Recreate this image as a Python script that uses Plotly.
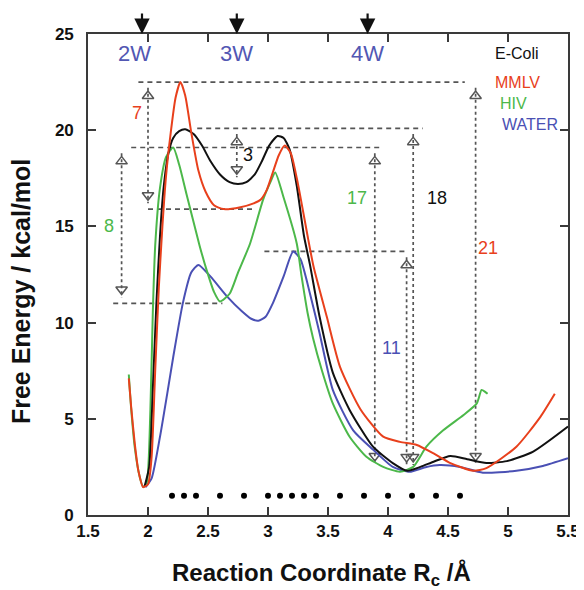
import plotly.graph_objects as go

# ---------------- data ----------------
mmlv_x = [1.84, 1.86, 1.89, 1.92, 1.96, 2.0, 2.03, 2.06, 2.09, 2.12, 2.15, 2.19, 2.23, 2.27, 2.31, 2.36, 2.42,
          2.48, 2.55, 2.63, 2.77, 2.88, 2.94, 2.99, 3.04, 3.09, 3.14, 3.19, 3.24, 3.28, 3.33, 3.38, 3.49, 3.6,
          3.77, 3.96, 4.1, 4.24, 4.38, 4.52, 4.71, 4.82, 5.07, 5.27, 5.39]
mmlv_y = [7.1, 5.6, 3.7, 2.3, 1.45, 1.6, 3.0, 7.5, 11.8, 15.0, 17.6, 19.9, 21.7, 22.5, 21.8, 19.9, 17.9,
          16.8, 16.1, 15.9, 16.0, 16.2, 16.4, 16.9, 17.8, 18.7, 19.2, 18.8, 17.5, 16.2, 14.5, 12.9, 10.3, 7.7,
          5.5, 4.07, 3.8, 3.64, 3.2, 2.7, 2.3, 2.44, 3.55, 5.1, 6.3]

hiv_x = [1.84, 1.86, 1.89, 1.93, 1.96, 1.99, 2.02, 2.04, 2.06, 2.1, 2.15, 2.21, 2.26, 2.32, 2.43, 2.49, 2.55,
         2.6, 2.68, 2.75, 2.85, 2.96, 3.02, 3.06, 3.13, 3.24, 3.28, 3.33, 3.375, 3.45, 3.54, 3.68, 3.82, 3.96,
         4.1, 4.21, 4.32, 4.46, 4.63, 4.74, 4.78, 4.81, 4.83]
hiv_y = [7.3, 5.5, 3.5, 2.0, 1.45, 1.7, 5.5, 10.5, 14.0, 17.0, 18.6, 19.1, 18.2, 16.7, 14.0, 12.7, 11.6,
         11.1, 11.5, 12.6, 14.1, 16.4, 17.3, 17.8, 16.5, 14.1, 12.4, 10.5, 9.2, 7.5, 5.8, 4.07, 3.03, 2.5,
         2.25, 2.5, 3.55, 4.4, 5.2, 5.8, 6.5, 6.4, 6.3]

ecoli_x = [1.97, 2.01, 2.04, 2.07, 2.1, 2.13, 2.17, 2.21, 2.26, 2.31, 2.38, 2.45, 2.52, 2.6, 2.68, 2.75, 2.82,
           2.89, 2.95, 3.01, 3.08, 3.13, 3.18, 3.24, 3.3, 3.35, 3.43, 3.54, 3.68, 3.875, 4.04, 4.16, 4.27,
           4.38, 4.52, 4.66, 4.82, 4.99, 5.21, 5.5]
ecoli_y = [1.45, 2.5, 6.5, 11.0, 14.5, 17.0, 18.8, 19.6, 19.95, 20.05, 19.8, 19.2, 18.4, 17.7, 17.3, 17.2,
           17.3, 17.7, 18.4, 19.2, 19.7, 19.6, 19.0, 17.1, 14.5, 13.0, 10.3, 7.4, 5.46, 3.55, 2.7, 2.3, 2.5,
           2.77, 3.07, 2.9, 2.7, 2.8, 3.3, 4.6]

water_x = [1.98, 2.03, 2.1, 2.16, 2.21, 2.29, 2.36, 2.42, 2.52, 2.66, 2.78, 2.86, 2.92, 2.98, 3.04, 3.13, 3.21,
           3.27, 3.35, 3.43, 3.54, 3.71, 3.875, 4.04, 4.18, 4.32, 4.43, 4.6, 4.79, 5.07, 5.29, 5.5]
water_y = [1.45, 1.9, 4.07, 6.3, 8.2, 11.0, 12.6, 13.0, 12.4, 11.35, 10.6, 10.2, 10.1, 10.3, 11.0, 12.4, 13.7,
           13.3, 11.5, 9.45, 6.5, 4.4, 3.4, 2.5, 2.25, 2.5, 2.6, 2.5, 2.2, 2.3, 2.55, 2.95]

series_names = ["E-Coli", "MMLV", "HIV", "WATER"]

# reference dots along the bottom
dot_x = [2.2, 2.3, 2.4, 2.6, 2.8, 3.0, 3.1, 3.2, 3.3, 3.4, 3.6, 3.8, 4.0, 4.2, 4.4, 4.6]
dot_level = 1.0

# water-count markers on top
water_labels = ["2W", "3W", "4W"]
water_arrow_x = [1.95, 2.74, 3.83]
water_label_x = [1.89, 2.74, 3.83]
water_label_level = 24.0

# barrier annotations: label, vertical x, top energy, bottom energy, label x, label y
barrier_labels = ["7", "21", "3", "18", "8", "17", "11"]
barrier_series = ["MMLV", "MMLV", "E-Coli", "E-Coli", "HIV", "HIV", "WATER"]
barrier_x = [2.0, 4.73, 2.74, 4.21, 1.78, 3.89, 4.155]
barrier_top = [22.5, 22.5, 20.1, 20.1, 19.1, 19.1, 13.7]
barrier_bottom = [15.9, 2.35, 17.25, 2.3, 11.0, 2.35, 2.3]
barrier_label_x = [1.91, 4.83, 2.83, 4.41, 1.675, 3.74, 4.03]
barrier_label_y = [20.9, 13.9, 18.7, 16.5, 15.0, 16.5, 8.7]

# horizontal dashed reference levels: energy, x start, x end
hline_y = [22.5, 15.9, 20.1, 19.1, 11.0, 13.7]
hline_x0 = [1.92, 2.0, 2.41, 1.86, 1.71, 2.97]
hline_x1 = [4.64, 2.89, 4.29, 3.95, 2.62, 4.16]

# legend text placement
legend_x = [4.875, 4.875, 4.915, 4.93]
legend_y = [24.0, 22.5, 21.4, 20.3]

x_ticks = [1.5, 2, 2.5, 3, 3.5, 4, 4.5, 5, 5.5]
x_tick_labels = ["1.5", "2", "2.5", "3", "3.5", "4", "4.5", "5", "5.5"]
y_ticks = [0, 5, 10, 15, 20, 25]
y_tick_labels = ["0", "5", "10", "15", "20", "25"]

x_title = "Reaction Coordinate R<sub>c</sub> /Å"
y_title = "Free Energy / kcal/mol"

# ---------------- style ----------------
colors = {"E-Coli": "#111111", "MMLV": "#e8401c", "HIV": "#4cb84a", "WATER": "#4a50b4"}
label_blue = "#5257b3"
dash_col = "#555555"
axis_col = "#3a3a3a"
FONT = "Liberation Sans, Arial, sans-serif"

fig = go.Figure()

# dashed horizontal lines
for y, x0, x1 in zip(hline_y, hline_x0, hline_x1):
    fig.add_trace(go.Scatter(x=[x0, x1], y=[y, y], mode="lines",
                             line=dict(color=dash_col, width=1.7, dash="5px,4px"),
                             hoverinfo="skip", showlegend=False))

# vertical barrier arrows
tri_off = 0.42  # arrowhead marker centre offset from line ends (energy units)
for lab, ser, x, yt, yb in zip(barrier_labels, barrier_series, barrier_x, barrier_top, barrier_bottom):
    fig.add_trace(go.Scatter(x=[x, x], y=[yt - 0.3, yb + 0.3], mode="lines",
                             line=dict(color=dash_col, width=1.7, dash="3px,3px"),
                             hoverinfo="skip", showlegend=False))
    fig.add_trace(go.Scatter(x=[x], y=[yt - 0.3 - tri_off], mode="markers",
                             marker=dict(symbol="triangle-up-open", size=10, color=dash_col,
                                         line=dict(width=1.5, color=dash_col)),
                             hoverinfo="skip", showlegend=False))
    fig.add_trace(go.Scatter(x=[x], y=[yb + 0.3 + tri_off], mode="markers",
                             marker=dict(symbol="triangle-down-open", size=10, color=dash_col,
                                         line=dict(width=1.5, color=dash_col)),
                             hoverinfo="skip", showlegend=False))

# curves
curves = {"E-Coli": (ecoli_x, ecoli_y), "MMLV": (mmlv_x, mmlv_y),
          "HIV": (hiv_x, hiv_y), "WATER": (water_x, water_y)}
for name in ["WATER", "HIV", "E-Coli", "MMLV"]:
    xs, ys = curves[name]
    fig.add_trace(go.Scatter(x=xs, y=ys, mode="lines", name=name,
                             line=dict(color=colors[name], width=2, shape="spline", smoothing=0.6),
                             showlegend=False))

# bottom dots
fig.add_trace(go.Scatter(x=dot_x, y=[dot_level] * len(dot_x), mode="markers",
                         marker=dict(color="black", size=6), hoverinfo="skip", showlegend=False))

annotations = []
# barrier labels
for lab, ser, lx, ly in zip(barrier_labels, barrier_series, barrier_label_x, barrier_label_y):
    annotations.append(dict(x=lx, y=ly, text=lab, showarrow=False, xref="x", yref="y",
                            font=dict(family=FONT, size=18, color=colors[ser])))
# water count labels and arrows
for lab, lx in zip(water_labels, water_label_x):
    annotations.append(dict(x=lx, y=water_label_level, text=lab, showarrow=False, xref="x", yref="y",
                            font=dict(family=FONT, size=22, color=label_blue)))
for ax_ in water_arrow_x:
    annotations.append(dict(x=ax_, y=1.0, text="", showarrow=True, xref="x", yref="paper",
                            ax=0, ay=-22, arrowhead=2, arrowsize=1.4, arrowwidth=2.2,
                            arrowcolor="#111111"))
# legend text
for name, lx, ly in zip(series_names, legend_x, legend_y):
    annotations.append(dict(x=lx, y=ly, text=name, showarrow=False, xref="x", yref="y",
                            xanchor="left", font=dict(family=FONT, size=16, color=colors[name])))
# axis titles
annotations.append(dict(x=-0.138, y=0.465, xref="paper", yref="paper", text=y_title, textangle=-90,
                        showarrow=False, xanchor="center", yanchor="middle",
                        font=dict(family=FONT, size=25, color="#111111", weight="bold")))
annotations.append(dict(x=0.487, y=-0.124, xref="paper", yref="paper", text=x_title,
                        showarrow=False, xanchor="center", yanchor="middle",
                        font=dict(family=FONT, size=24, color="#111111", weight="bold")))

# the page body adds an 8px margin, so the figure is 8px smaller and its margins shifted
fig.update_layout(
    template="none",
    width=576, height=582,
    margin=dict(l=80, r=16, t=26, b=75, pad=0),
    paper_bgcolor="white", plot_bgcolor="white",
    annotations=annotations,
    xaxis=dict(range=[1.5, 5.5], tickvals=x_ticks, ticktext=x_tick_labels, automargin=False,
               showgrid=False, zeroline=False, showline=True, linecolor=axis_col, linewidth=1.6,
               mirror="ticks", ticks="inside", ticklen=8, tickwidth=1.6, tickcolor=axis_col,
               ticklabelstandoff=0,
               tickfont=dict(family=FONT, size=17, color="#111111", weight="bold")),
    yaxis=dict(range=[0, 25], tickvals=y_ticks, ticktext=y_tick_labels, automargin=False,
               showgrid=False, zeroline=False, showline=True, linecolor=axis_col, linewidth=1.6,
               mirror="ticks", ticks="inside", ticklen=8, tickwidth=1.6, tickcolor=axis_col,
               ticklabelstandoff=9,
               tickfont=dict(family=FONT, size=17, color="#111111", weight="bold")),
)

fig.write_html("out.html")
